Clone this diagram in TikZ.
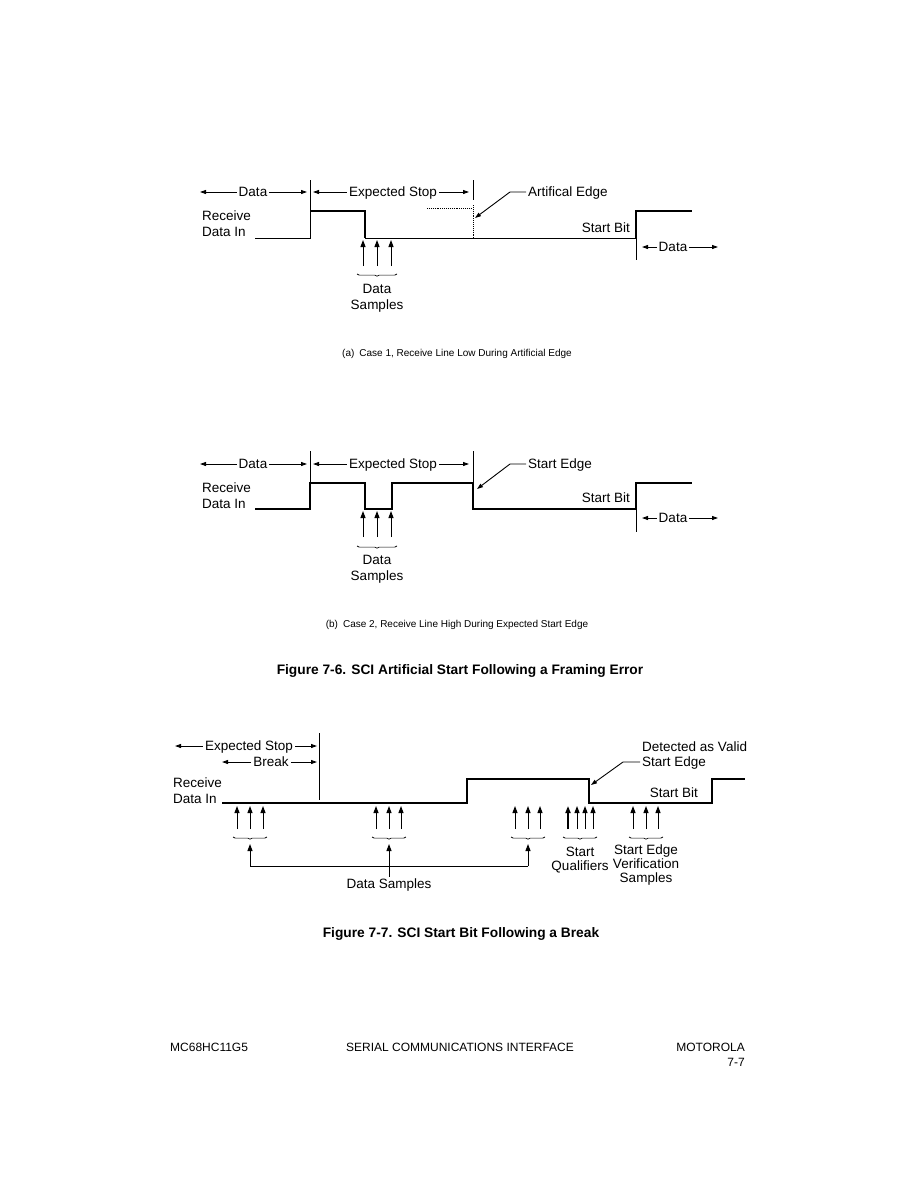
\documentclass[tikz,border=0pt]{standalone}
\usepackage{fontspec}
\setmainfont{Liberation Sans}
\usetikzlibrary{arrows.meta,decorations.pathreplacing}

\begin{document}
\begin{tikzpicture}[x=1pt, y=-1pt,
  lbl/.style={inner sep=2pt, font=\fontsize{13.5}{16}\selectfont},
  dl/.style={lbl, text height=9.7pt, text depth=0pt},
  subcap/.style={inner sep=0pt, font=\fontsize{10}{12}\selectfont},
  figcap/.style={inner sep=0pt, font=\bfseries\fontsize{13.75}{16}\selectfont},
  foot/.style={inner sep=0pt, font=\fontsize{12}{15}\selectfont},
  sig/.style={line width=2pt, line join=miter},
  lowsig/.style={line width=1pt},
  dim/.style={line width=0.9pt, -{Triangle[length=6pt,width=4pt]}},
  smp/.style={line width=1pt, -{Triangle[length=7pt,width=5pt]}},
  brc/.style={decorate, decoration={brace, amplitude=2.2pt, aspect=0.5, mirror}, line width=0.7pt}]
  \useasboundingbox (0,0) rectangle (919,1189);

  % ---------- (a) case 1 ----------
  \node[dl] (DA) at (253,192) {Data};
  \node[dl] (ESA) at (393,192) {Expected Stop};
  \node[dl, anchor=west] (AE) at (526,192) {Artifical Edge};
  \node[lbl, align=left, anchor=west] (RA) at (200,224) {Receive\\Data In};
  \node[dl, anchor=east] (SBA) at (632,228) {Start Bit};
  \node[dl] (DA2) at (673,247) {Data};
  \node[lbl, align=center] (SA) at (377,298) {Data\\Samples};
  \coordinate (AEtip) at (475,218); % artificial edge
  \draw[dim] (DA.west) -- (200,192);
  \draw[dim] (DA.east) -- (307,192);
  \draw[dim] (ESA.west) -- (313,192);
  \draw[dim] (ESA.east) -- (469,192);
  \draw[dim] (AE.west) -- (510,192) -- (AEtip);
  \draw[dim] (DA2.west) -- (642,247);
  \draw[dim] (DA2.east) -- (718,247);
  \draw[line width=0.9pt] (310,180) -- (310,211); % tick
  \draw[line width=0.9pt] (473,180) -- (473,200); % tick
  \draw[line width=0.9pt, densely dotted] (473,205) -- (473,238);
  \draw[line width=0.9pt, densely dotted] (427,208) -- (471,208);
  \draw[line width=0.9pt] (636,238) -- (636,260); % tick
  % line
  \draw[lowsig] (255,238) -- (310,238) -- (310,211);
  \draw[sig] (310,211) -- (365,211) -- (365,238);
  \draw[lowsig] (365,238) -- (636,238);
  \draw[sig] (636,238) -- (636,211) -- (692,211);
  % samples
  \foreach \x in {363,377,391} \draw[smp] (\x,266) -- (\x,240);
  \draw[brc] (357,274) -- (397,274);
  \node[subcap] (CA) at (457,354) {(a)\enspace Case 1, Receive Line Low During Artificial Edge};

  % ---------- (b) case 2 ----------
  \node[dl] (DB) at (253,464) {Data};
  \node[dl] (ESB) at (393,464) {Expected Stop};
  \node[dl, anchor=west] (SE) at (526,464) {Start Edge};
  \node[lbl, align=left, anchor=west] (RB) at (200,496) {Receive\\Data In};
  \node[dl, anchor=east] (SBB) at (632,498) {Start Bit};
  \node[dl] (DB2) at (673,518) {Data};
  \node[lbl, align=center] (SB) at (377,569) {Data\\Samples};
  \coordinate (SEtip) at (477,489); % start edge
  \draw[dim] (DB.west) -- (200,464);
  \draw[dim] (DB.east) -- (307,464);
  \draw[dim] (ESB.west) -- (313,464);
  \draw[dim] (ESB.east) -- (469,464);
  \draw[dim] (SE.west) -- (510,464) -- (SEtip);
  \draw[dim] (DB2.west) -- (642,518);
  \draw[dim] (DB2.east) -- (718,518);
  \draw[line width=0.9pt] (310,451) -- (310,483); % tick
  \draw[line width=0.9pt] (473,451) -- (473,483); % tick
  \draw[line width=0.9pt] (636,509) -- (636,532); % tick
  % line
  \draw[sig] (255,509) -- (310,509) -- (310,483) -- (365,483) -- (365,509) -- (392,509)
    -- (392,483) -- (473,483) -- (473,509) -- (636,509) -- (636,483) -- (692,483);
  % samples
  \foreach \x in {363,377,391} \draw[smp] (\x,537) -- (\x,511);
  \draw[brc] (357,546) -- (397,546);
  \node[subcap] (CB) at (457,625) {(b)\enspace Case 2, Receive Line High During Expected Start Edge};

  \node[figcap] (F6) at (460,671) {Figure 7-6. SCI Artificial Start Following a Framing Error};

  % ---------- figure 7-7 ----------
  \node[dl] (ESC) at (249,746) {Expected Stop};
  \node[dl] (BR) at (271,762) {Break};
  \node[lbl, align=left, anchor=west] (RC) at (171,791) {Receive\\Data In};
  \node[dl, anchor=west] (DV) at (640,747) {Detected as Valid};
  \node[dl, anchor=west] (SEC) at (640,762) {Start Edge};
  \node[dl, anchor=east] (SBC) at (700,793) {Start Bit};
  \node[lbl, align=center, font=\fontsize{13.5}{14}\selectfont] (SQ) at (580,860) {Start\\Qualifiers};
  \node[lbl, align=center, font=\fontsize{13.5}{14}\selectfont] (SV) at (646,865) {Start Edge\\Verification\\Samples};
  \node[dl] (DS) at (389,884) {Data Samples};
  \coordinate (SCtip) at (591,785); % valid start edge
  \draw[dim] (ESC.west) -- (175,746);
  \draw[dim] (ESC.east) -- (317,746);
  \draw[dim] (BR.west) -- (222,762);
  \draw[dim] (BR.east) -- (317,762);
  \draw[dim] (SEC.west) -- (623,762) -- (SCtip);
  \draw[line width=0.9pt] (319,733) -- (319,800); % break end
  % line
  \draw[sig] (222,803) -- (467,803) -- (467,779) -- (589,779) -- (589,803) -- (712,803)
    -- (712,779) -- (745,779);
  % samples
  \foreach \x in {237,250,263, 376,389,401, 515,528,540, 577,585,593, 633,646,658}
    \draw[smp] (\x,829) -- (\x,806);
  \draw[smp, line width=1.6pt] (568,829) -- (568,806); % first qualifier
  \foreach \a/\b in {233/267, 372/406, 511/545, 563/597, 629/663}
    \draw[brc] (\a,837) -- (\b,837);
  \coordinate (G1) at (250,844);
  \coordinate (G2) at (389,844);
  \coordinate (G3) at (528,844);
  \draw[line width=0.9pt] (250,866) -- (528,866);
  \draw[smp] (250,866) -- (G1);
  \draw[smp] (DS.north) -- (G2);
  \draw[smp] (528,866) -- (G3);
  \node[figcap] (F7) at (461,934) {Figure 7-7. SCI Start Bit Following a Break};

  % footer
  \node[foot, anchor=west] (FL) at (170,1047) {MC68HC11G5};
  \node[foot] (FC) at (460,1047) {SERIAL COMMUNICATIONS INTERFACE};
  \node[foot, anchor=east] (FR) at (745,1047) {MOTOROLA};
  \node[foot, anchor=east] (FP) at (745,1062) {7-7};
\end{tikzpicture}
\end{document}
